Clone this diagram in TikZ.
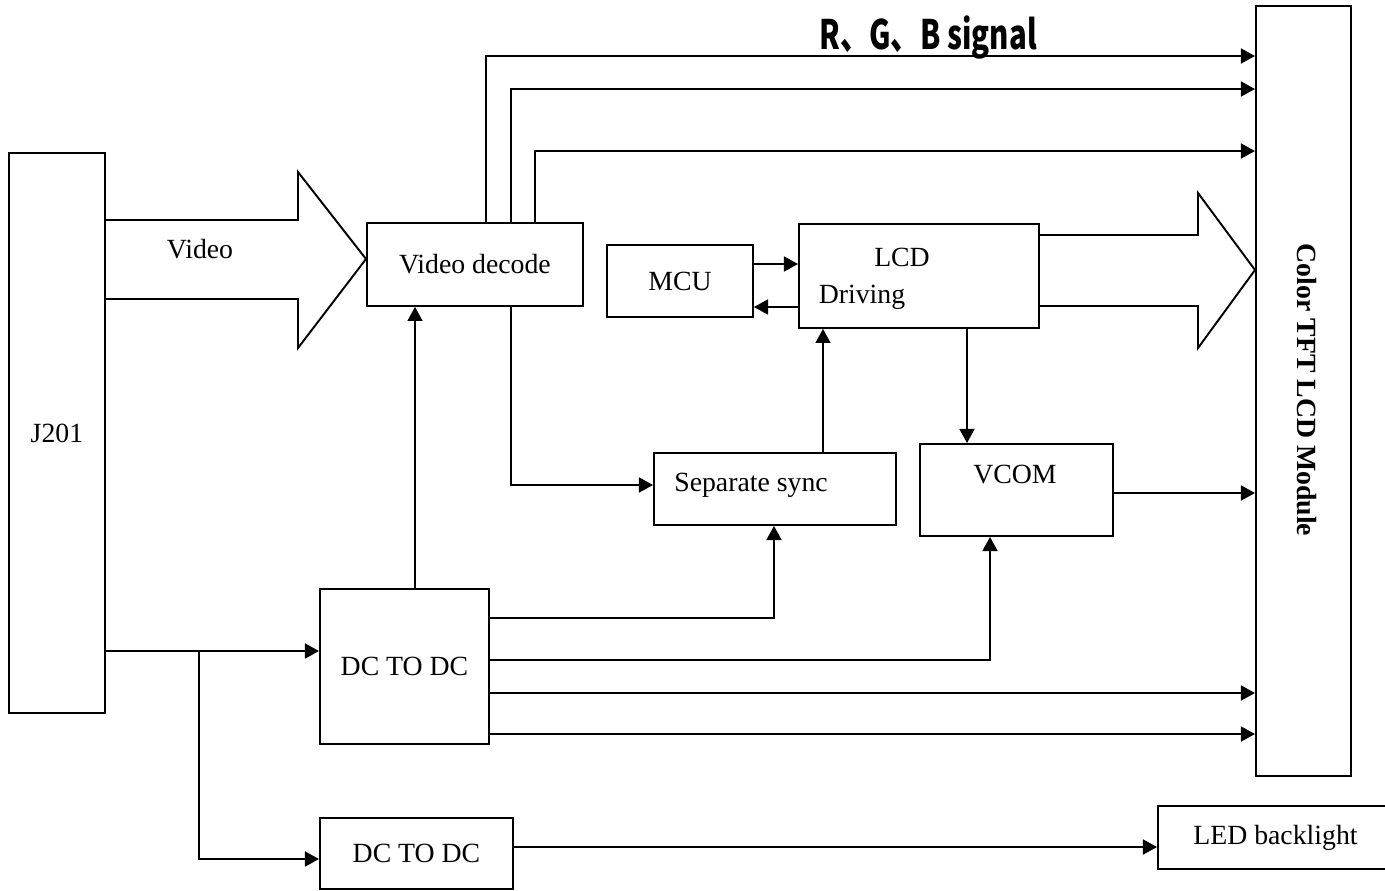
\documentclass[tikz,border=0pt]{standalone}
\usepackage{fontspec}
\setmainfont{Liberation Serif}
\newfontfamily\cjk{Noto Sans CJK SC}
\usetikzlibrary{arrows.meta}

\tikzset{
  txt/.style={font=\fontsize{15.8}{19}\selectfont, inner sep=0pt},
  blk/.style 2 args={draw, line width=1.1pt, txt, minimum width=#1*0.02cm, minimum height=#2*0.02cm, anchor=north west},
  arr/.style={line width=1.1pt, -{Triangle[length=8pt,width=8.5pt]}},
  fat/.style={line width=1.1pt, line join=miter}
}

\begin{document}
\begin{tikzpicture}[x=0.02cm, y=-0.02cm]
\useasboundingbox (0,0) rectangle (1385,890);

% blocks
\node[blk={96}{560}] (j201) at (8,152) {J201};
\node[blk={216}{83}] (dec) at (366,222) {Video decode};
\node[blk={146}{72}] (mcu) at (606,244) {MCU};
\node[blk={240}{104}] (lcd) at (798,223) {};
\node[blk={242}{72}] (sync) at (653,452) {};
\node[blk={193}{92}] (vcom) at (919,443) {};
\node[blk={169}{155}] (dcA) at (319,588) {DC TO DC};
\node[blk={193}{71}] (dcB) at (319,817) {DC TO DC};
\node[blk={235}{63}] (led) at (1157,805) {LED backlight};
\node[blk={95}{770}] (tft) at (1255,5) {};

\node[txt] (lcdt) at (902,257) {LCD};
\node[txt] (drvt) at (862,297) {Driving};
\node[txt] (synct) at (751,485) {Separate sync};
\node[txt] (vcomt) at (1015,475) {VCOM};
\node[txt, font=\fontsize{15.8}{19}\selectfont\bfseries, rotate=-90] (tftt) at (1307,390) {Color TFT LCD Module};
\node[txt] (vidt) at (200,249) {Video};
\node[inner sep=0pt] (rgbt) at (928,37) {\scalebox{0.76}[1.05]{\cjk\bfseries\fontsize{22}{26}\selectfont R、G、B signal}};

% wide arrows
\draw[fat] (j201.east |- 0,220) -| (298,172) -- (dec.west |- 0,259) -- (298,348) |- (j201.east |- 0,299);
\draw[fat] (lcd.east |- 0,235) -| (1198,193) -- (tft.west |- 0,270) -- (1198,348) |- (lcd.east |- 0,306);

% R G B
\draw[arr] (dec.north -| 486,0) |- (tft.west |- 0,56);
\draw[arr] (dec.north -| 511,0) |- (tft.west |- 0,89);
\draw[arr] (dec.north -| 535,0) |- (tft.west |- 0,151);

\draw[arr] (mcu.east |- 0,264) -- (lcd.west |- 0,264);
\draw[arr] (lcd.west |- 0,307) -- (mcu.east |- 0,307);
\draw[arr] (dec.south -| 511,0) |- (sync.west |- 0,485);
\draw[arr] (sync.north -| 823,0) -- (lcd.south -| 823,0);
\draw[arr] (lcd.south -| 967,0) -- (vcom.north -| 967,0);
\draw[arr] (vcom.east |- 0,493) -- (tft.west |- 0,493);

% power
\coordinate (tap) at (199,651);
\draw[arr] (j201.east |- tap) -- (dcA.west |- tap);
\draw[arr] (tap) |- (dcB.west |- 0,859);
\draw[arr] (dcA.north -| 415,0) -- (dec.south -| 415,0);
\draw[arr] (dcA.east |- 0,618) -| (sync.south -| 774,0);
\draw[arr] (dcA.east |- 0,660) -| (vcom.south -| 990,0);
\draw[arr] (dcA.east |- 0,693) -- (tft.west |- 0,693);
\draw[arr] (dcA.east |- 0,734) -- (tft.west |- 0,734);
\draw[arr] (dcB.east |- 0,847) -- (led.west |- 0,847);
%\draw[arr] (dcB.east) -- (led.west);
\end{tikzpicture}
\end{document}
